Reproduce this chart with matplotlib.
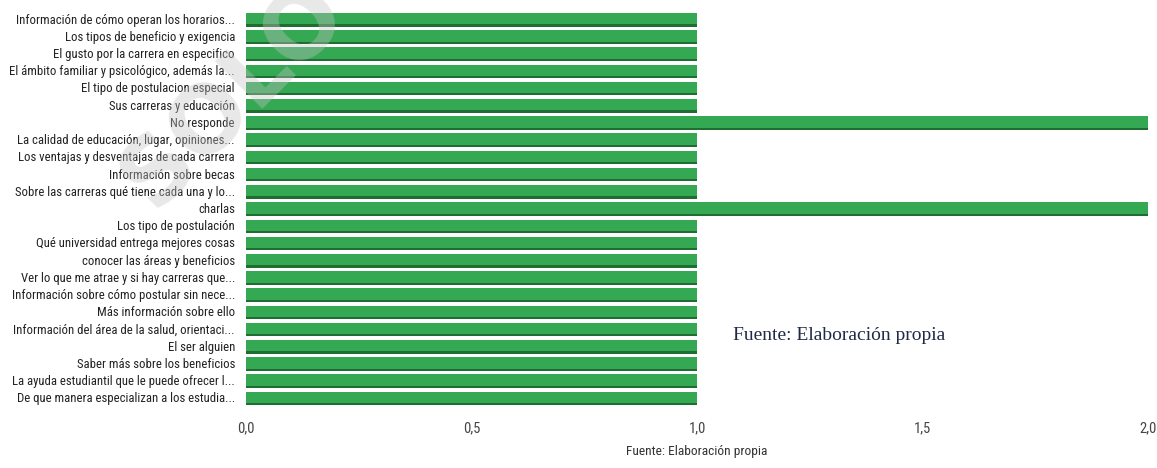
import matplotlib.pyplot as plt
import matplotlib.font_manager as fm

# categories top -> bottom as shown in the chart
labels = [
    "Información de cómo operan los horarios...",
    "Los tipos de beneficio y exigencia",
    "El gusto por la carrera en especifico",
    "El ámbito familiar y psicológico, además la...",
    "El tipo de postulacion especial",
    "Sus carreras y educación",
    "No responde",
    "La calidad de educación, lugar, opiniones...",
    "Los ventajas y desventajas de cada carrera",
    "Información sobre becas",
    "Sobre las carreras qué tiene cada una y lo...",
    "charlas",
    "Los tipo de postulación",
    "Qué universidad entrega mejores cosas",
    "conocer las áreas y beneficios",
    "Ver lo que me atrae y si hay carreras que...",
    "Información sobre cómo postular sin nece...",
    "Más información sobre ello",
    "Información del área de la salud, orientaci...",
    "El ser alguien",
    "Saber más sobre los beneficios",
    "La ayuda estudiantil que le puede ofrecer l...",
    "De que manera especializan a los estudia...",
]
counts = [1, 1, 1, 1, 1, 1, 2, 1, 1, 1, 1, 2, 1, 1, 1, 1, 1, 1, 1, 1, 1, 1, 1]
xticks = [0.0, 0.5, 1.0, 1.5, 2.0]
xtick_labels = ["0,0", "0,5", "1,0", "1,5", "2,0"]

# look for a narrow sans font, else fall back to Roboto a bit smaller
narrow = None
for f in fm.fontManager.ttflist:
    low = f.fname.lower()
    if ("narrow" in low or "condensed" in low) and "bold" not in low and "italic" not in low and "oblique" not in low:
        if "liberation" in low or "roboto" in low:
            narrow = f.fname
            break
        if narrow is None:
            narrow = f.fname

if narrow:
    lab_fp = fm.FontProperties(fname=narrow, size=9.2)
    tick_fp = fm.FontProperties(fname=narrow, size=10.5)
    small_fp = fm.FontProperties(fname=narrow, size=9.6)
else:
    lab_fp = fm.FontProperties(family="Roboto", size=8)
    tick_fp = fm.FontProperties(family="Roboto", size=9)
    small_fp = fm.FontProperties(family="Roboto", size=8)

fig = plt.figure(figsize=(11.57, 4.68), dpi=100)
ax = fig.add_axes([246 / 1157, 1 - 406 / 468, (1148 - 246) / 1157, 396 / 468])

ypos = list(range(len(labels)))
# darker shadow under each bar
ax.barh([y + 0.12 for y in ypos], counts, height=0.68, color="#1f6e31", zorder=1)
ax.barh(ypos, counts, height=0.66, color="#34a853", zorder=2)

ax.set_ylim(len(labels) - 0.5, -0.5)
ax.set_xlim(0, 2.0)
ax.set_yticks(ypos)
ax.set_yticklabels(labels, color="#222222", fontproperties=lab_fp)
ax.set_xticks(xticks)
ax.set_xticklabels(xtick_labels, color="#444444", fontproperties=tick_fp)
ax.tick_params(axis="both", length=0)
ax.tick_params(axis="y", pad=8)
ax.tick_params(axis="x", pad=11)
for s in ax.spines.values():
    s.set_visible(False)

fig.text(697 / 1157, 1 - 451 / 468, "Fuente: Elaboración propia", ha="center",
         va="center", color="#333333", fontproperties=small_fp)
fig.text(733 / 1157, 1 - 336 / 468, "Fuente: Elaboración propia", ha="left",
         va="center", fontsize=14, color="#1f2a44", family="Liberation Serif")

# faint watermark (runs off the top edge like the original)
fig.text(233 / 1157, 1 - 95 / 468, "SOLO", ha="center", va="center", rotation=45,
         fontsize=66, fontweight="bold", color="#c4c4c4", alpha=0.38,
         family="DejaVu Sans", zorder=10)

fig.savefig("out.png", dpi=100)
